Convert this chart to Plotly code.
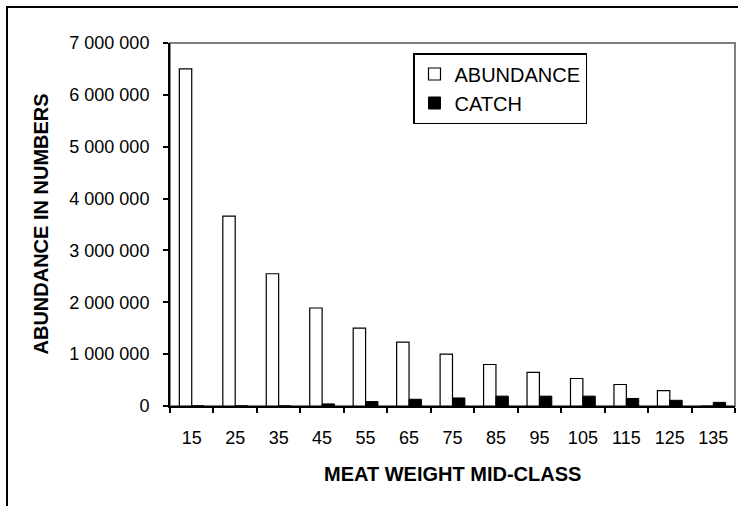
import plotly.graph_objects as go

categories = ["15", "25", "35", "45", "55", "65", "75", "85", "95", "105", "115", "125", "135"]
abundance = [6500000, 3660000, 2550000, 1890000, 1500000, 1230000, 1000000, 800000, 650000, 530000, 415000, 295000, 0]
catch = [0, 0, 0, 40000, 85000, 130000, 155000, 190000, 190000, 190000, 145000, 110000, 70000]
ytick_vals = [0, 1000000, 2000000, 3000000, 4000000, 5000000, 6000000, 7000000]

FONT = "Liberation Sans, Arial, sans-serif"
FS = 20
TFS = 18

fig = go.Figure()
fig.add_trace(go.Bar(
    x=categories, y=abundance, name="ABUNDANCE",
    marker=dict(color="white", line=dict(color="black", width=1.2)),
))
fig.add_trace(go.Bar(
    x=categories, y=catch, name="CATCH",
    marker=dict(color="black", line=dict(color="black", width=1)),
))

L, R, T, B = 170, 3, 43, 100
W, H = 738, 506
pw, ph = W - L - R, H - T - B

fig.update_layout(
    width=W, height=H,
    margin=dict(l=L, r=R, t=T, b=B, autoexpand=False),
    paper_bgcolor="white", plot_bgcolor="white",
    barmode="group", bargap=0.43, bargroupgap=0,
    separators=". ",
    font=dict(family=FONT, size=FS, color="black"),
    showlegend=True,
    hovermode=False,
    legend=dict(
        x=(500 - L) / pw, y=(H - B - 53) / ph,
        xanchor="center", yanchor="top",
        bgcolor="white", bordercolor="black", borderwidth=1.5,
        font=dict(family=FONT, size=FS, color="black"),
        itemwidth=30, tracegroupgap=0,
    ),
    xaxis=dict(
        type="category", tickson="boundaries",
        showline=True, linecolor="black", linewidth=2,
        ticks="outside", ticklen=5, tickwidth=2, tickcolor="black",
        ticklabelstandoff=14,
        showgrid=False, zeroline=False,
        tickfont=dict(family=FONT, size=TFS),
    ),
    yaxis=dict(
        range=[0, 7000000], tickvals=ytick_vals, tickformat=",d",
        showline=True, linecolor="black", linewidth=2,
        ticks="outside", ticklen=5, tickwidth=2, tickcolor="black",
        ticklabelstandoff=10,
        showgrid=False, zeroline=False,
        tickfont=dict(family=FONT, size=TFS),
    ),
    shapes=[
        dict(type="rect", xref="paper", yref="paper", x0=0, x1=1, y0=0, y1=1,
             line=dict(color="#808080", width=2), layer="below"),
        dict(type="rect", xref="paper", yref="paper",
             x0=(7 - L) / pw, x1=2, y0=-2, y1=1 + (T - 7) / ph,
             line=dict(color="black", width=2), layer="below"),
    ],
    annotations=[
        dict(text="<b>ABUNDANCE IN NUMBERS</b>", textangle=-90,
             xref="paper", yref="paper", x=(40 - L) / pw, y=0.5,
             xanchor="center", yanchor="middle", showarrow=False,
             font=dict(family=FONT, size=FS)),
        dict(text="<b>MEAT WEIGHT MID-CLASS</b>",
             xref="paper", yref="paper", x=0.5, y=-(474 - (H - B)) / ph,
             xanchor="center", yanchor="middle", showarrow=False,
             font=dict(family=FONT, size=FS)),
    ],
)

fig.write_html("out.html", config={"displayModeBar": False},
               post_script="document.body.style.margin='0';")
